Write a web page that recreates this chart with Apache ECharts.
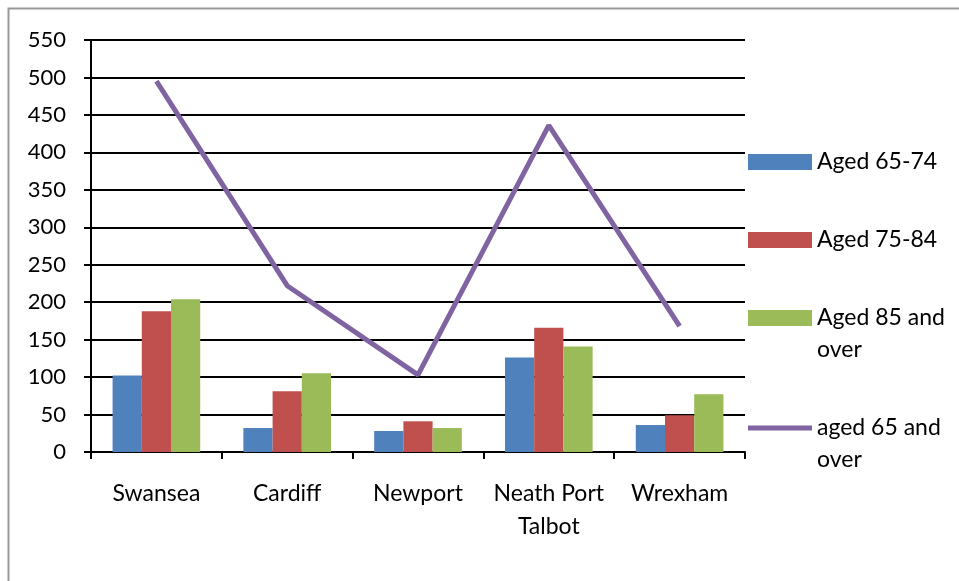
<!DOCTYPE html>
<html>
<head>
<meta charset="utf-8">
<script src="https://cdn.jsdelivr.net/npm/echarts@6/dist/echarts.min.js"></script>
<style>
html,body{margin:0;padding:0;background:#fff;}
#chart{width:959px;height:581px;}
</style>
</head>
<body>
<div id="chart"></div>
<script>
const categories = ['Swansea', 'Cardiff', 'Newport', 'Neath Port Talbot', 'Wrexham'];
const seriesNames = ['Aged 65-74', 'Aged 75-84', 'Aged 85 and over', 'aged 65 and over'];
const aged65to74 = [102, 32, 28, 126, 36];
const aged75to84 = [188, 81, 41, 166, 49];
const aged85plus = [204, 105, 32, 141, 77];
const aged65plus = [495, 222, 103, 436, 168];
const yTicks = [0, 550, 50];

const FONT = 'Lato';
const FS = 23;
const colors = ['#4F81BD', '#C0504D', '#9BBB59', '#8064A2'];

const legendTops = [146, 224, 270, 380];
const twoLine = [false, false, true, true];

const legends = seriesNames.map((n, i) => ({
  data: [n],
  left: 748,
  top: legendTops[i],
  orient: 'vertical',
  padding: 0,
  itemGap: 0,
  itemWidth: 64,
  itemHeight: i === 3 ? 5 : 16,
  icon: 'rect',
  selectedMode: false,
  formatter: (s) => twoLine[i] ? ' \n' + s.replace(' over', '\nover') : s,
  textStyle: {
    fontFamily: FONT, fontSize: FS, color: '#000', lineHeight: 32
  }
}));

const chart = echarts.init(document.getElementById('chart'));
chart.setOption({
  animation: false,
  backgroundColor: 'transparent',
  graphic: [{
    type: 'rect', silent: true, z: -10,
    shape: {x: 8.5, y: 8.5, width: 1000, height: 1000},
    style: {fill: 'none', stroke: '#999', lineWidth: 2}
  }],
  legend: legends,
  grid: {left: 91, top: 40, width: 654, height: 412, containLabel: false},
  xAxis: {
    type: 'category',
    data: categories,
    axisLine: {lineStyle: {color: '#000', width: 2}},
    axisTick: {show: true, length: 7, lineStyle: {color: '#000', width: 2}},
    axisLabel: {
      fontFamily: FONT, fontSize: FS, color: '#000', margin: 25, lineHeight: 33,
      interval: 0,
      formatter: (v) => v.replace('Port ', 'Port\n')
    }
  },
  yAxis: {
    type: 'value',
    min: yTicks[0], max: yTicks[1], interval: yTicks[2],
    axisLine: {show: true, lineStyle: {color: '#000', width: 2}},
    axisTick: {show: true, length: 7, lineStyle: {color: '#000', width: 2}},
    splitLine: {lineStyle: {color: '#000', width: 2}},
    axisLabel: {fontFamily: FONT, fontSize: 22, color: '#000', margin: 25}
  },
  series: [
    {name: seriesNames[0], type: 'bar', data: aged65to74, itemStyle: {color: colors[0]}, barGap: 0, barCategoryGap: '33%'},
    {name: seriesNames[1], type: 'bar', data: aged75to84, itemStyle: {color: colors[1]}, barGap: 0, barCategoryGap: '33%'},
    {name: seriesNames[2], type: 'bar', data: aged85plus, itemStyle: {color: colors[2]}, barGap: 0, barCategoryGap: '33%'},
    {name: seriesNames[3], type: 'line', data: aged65plus, showSymbol: false, symbol: 'none',
     itemStyle: {color: colors[3]}, lineStyle: {color: colors[3], width: 5}, z: 5}
  ]
});
</script>
</body>
</html>
